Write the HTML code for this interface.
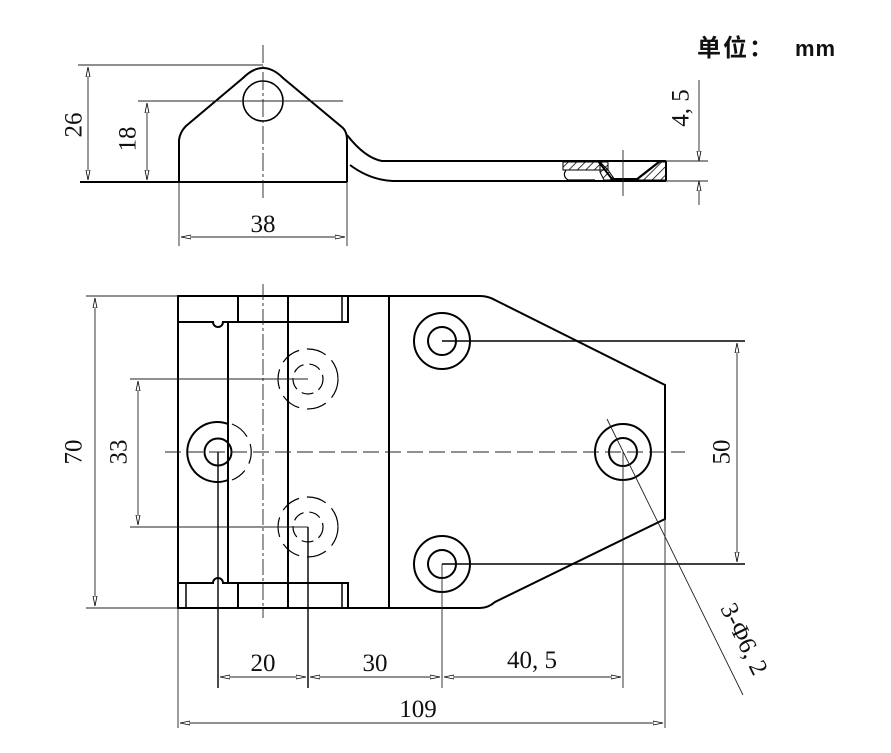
<!DOCTYPE html>
<html><head><meta charset="utf-8"><style>
html,body{margin:0;padding:0;background:#fff;}
svg{display:block;}
text{font-family:"Liberation Serif","Noto Serif CJK SC",serif;font-size:25px;fill:#111;}
</style></head><body>
<svg width="891" height="753" viewBox="0 0 891 753" xmlns="http://www.w3.org/2000/svg">
<defs>
<pattern id="h" width="6" height="6" patternUnits="userSpaceOnUse" patternTransform="rotate(45)">
<line x1="0" y1="0" x2="0" y2="6" stroke="#000" stroke-width="1.5"/></pattern>
<marker id="a" markerWidth="10" markerHeight="6" refX="10" refY="3" orient="auto-start-reverse" markerUnits="userSpaceOnUse">
<path d="M0,1 L10,3 L0,5 Z" fill="#fff" stroke="#000" stroke-width="0.8"/></marker>
</defs>
<text x="697" y="56" style="font-family:'Noto Sans CJK SC',sans-serif;font-weight:bold;font-size:24px;letter-spacing:2px">单位：</text>
<text x="795" y="56" style="font-family:'Liberation Sans',sans-serif;font-weight:bold;font-size:22px;letter-spacing:1px">mm</text>

<!-- TOP VIEW -->
<g fill="none" stroke="#000" stroke-width="2">
<path d="M179,182 L179,140 Q180,132 186,126 L243,78 Q263,58 283,78 L343,128 Q347,132 347,140 L347,182"/>
<line x1="80" y1="182" x2="347" y2="182"/>
<path d="M347,135 Q365,158 382,161 L666,161"/>
<path d="M350,165 Q370,180 393,181 L666,181"/>
<line x1="666" y1="161" x2="666" y2="181"/>
<circle cx="263" cy="101" r="20" stroke-width="1.6"/>
</g>
<g stroke="#000" stroke-width="1">
<rect x="563" y="162" width="45" height="8" fill="url(#h)"/>
<path d="M600,162 L608,170 L615,180 L604,180 L600,172 Z" fill="url(#h)"/>
<path d="M637,180 L660,162 L666,162 L666,180 Z" fill="url(#h)"/>
<path d="M598,161 L612,179 L637,179 L660,161" fill="none" stroke-width="2"/>
<path d="M566,170 Q562,176 568,180 L595,180" fill="none" stroke-width="1.2"/>
</g>
<g stroke="#222" stroke-width="0.9" fill="none">
<line x1="263" y1="45" x2="263" y2="198" stroke-dasharray="18,3,3,3"/>
<line x1="138" y1="101" x2="343" y2="101"/>
<line x1="78" y1="65" x2="263" y2="65"/>
<line x1="88" y1="67" x2="88" y2="180" marker-start="url(#a)" marker-end="url(#a)"/>
<line x1="147" y1="103" x2="147" y2="180" marker-start="url(#a)" marker-end="url(#a)"/>
<line x1="179" y1="182" x2="179" y2="246"/>
<line x1="347" y1="182" x2="347" y2="246"/>
<line x1="181" y1="237" x2="345" y2="237" marker-start="url(#a)" marker-end="url(#a)"/>
<line x1="666" y1="161" x2="708" y2="161"/>
<line x1="666" y1="181" x2="708" y2="181"/>
<line x1="699" y1="80" x2="699" y2="161" marker-end="url(#a)"/>
<line x1="699" y1="181" x2="699" y2="205" marker-start="url(#a)"/>
<line x1="623" y1="150" x2="623" y2="196"/>
</g>
<text x="76" y="125" transform="rotate(-90 76 125)" text-anchor="middle" dominant-baseline="middle">26</text>
<text x="130" y="139" transform="rotate(-90 130 139)" text-anchor="middle" dominant-baseline="middle">18</text>
<text x="263" y="232" text-anchor="middle">38</text>
<text x="683" y="108" transform="rotate(-90 683 108)" text-anchor="middle" dominant-baseline="middle">4, 5</text>

<!-- FRONT VIEW -->
<g fill="none" stroke="#000" stroke-width="2">
<path d="M178,296 L480,296 Q488,296 495,300 L665,385 L665,519 L495,602 Q488,608 480,608 L178,608 Z"/>
<line x1="389" y1="296" x2="389" y2="608"/>
<path d="M178,322 L213,322 A5,5 0 0 0 223,322 L348,322 L348,296"/>
<path d="M178,583 L213,583 A5,5 0 0 1 223,583 L348,583 L348,608"/>
<line x1="342" y1="296" x2="342" y2="322" stroke-width="1.5"/>
<line x1="342" y1="583" x2="342" y2="608" stroke-width="1.5"/>
<line x1="238" y1="296" x2="238" y2="322"/>
<line x1="238" y1="583" x2="238" y2="608"/>
<line x1="186" y1="583" x2="186" y2="608" stroke-width="1.5"/>
<line x1="228" y1="322" x2="228" y2="583"/>
<line x1="288" y1="296" x2="288" y2="608"/>
<circle cx="218" cy="452" r="13.5"/>
<path d="M228,424 A30,30 0 1 0 228,480"/>
<circle cx="442" cy="341" r="28"/><circle cx="442" cy="341" r="14"/>
<circle cx="623" cy="452" r="28"/><circle cx="623" cy="452" r="14"/>
<circle cx="442" cy="564" r="28"/><circle cx="442" cy="564" r="14"/>
</g>
<g fill="none" stroke="#000" stroke-width="1.2" stroke-dasharray="20,8">
<path d="M232,424 A30,30 0 0 1 232,480"/>
<circle cx="308" cy="379" r="30"/><circle cx="308" cy="379" r="15" stroke-dasharray="12,6"/>
<circle cx="308" cy="527" r="30"/><circle cx="308" cy="527" r="15" stroke-dasharray="12,6"/>
</g>
<g stroke="#222" stroke-width="0.9" fill="none">
<line x1="165" y1="452" x2="685" y2="452" stroke-dasharray="16,6"/>
<line x1="263" y1="284" x2="263" y2="618" stroke-dasharray="16,3,3,3"/>
<line x1="86" y1="296" x2="178" y2="296"/>
<line x1="86" y1="608" x2="178" y2="608"/>
<line x1="95" y1="298" x2="95" y2="606" marker-start="url(#a)" marker-end="url(#a)"/>
<line x1="130" y1="379" x2="308" y2="379"/>
<line x1="130" y1="527" x2="308" y2="527"/>
<line x1="138" y1="381" x2="138" y2="525" marker-start="url(#a)" marker-end="url(#a)"/>
<line x1="442" y1="341" x2="745" y2="341" stroke="#000" stroke-width="1.4"/>
<line x1="442" y1="564" x2="745" y2="564" stroke="#000" stroke-width="1.4"/>
<line x1="737" y1="343" x2="737" y2="562" marker-start="url(#a)" marker-end="url(#a)"/>
<line x1="218" y1="452" x2="218" y2="688" stroke="#000" stroke-width="1.4"/>
<line x1="308" y1="527" x2="308" y2="688" stroke="#000" stroke-width="1.4"/>
<line x1="442" y1="564" x2="442" y2="688"/>
<line x1="623" y1="452" x2="623" y2="688"/>
<line x1="178" y1="608" x2="178" y2="728"/>
<line x1="665" y1="519" x2="665" y2="728"/>
<line x1="220" y1="677" x2="306" y2="677" marker-start="url(#a)" marker-end="url(#a)"/>
<line x1="310" y1="677" x2="440" y2="677" marker-start="url(#a)" marker-end="url(#a)"/>
<line x1="444" y1="677" x2="621" y2="677" marker-start="url(#a)" marker-end="url(#a)"/>
<line x1="180" y1="723" x2="663" y2="723" marker-start="url(#a)" marker-end="url(#a)"/>
<line x1="607" y1="419" x2="743" y2="695"/>
</g>
<text x="76" y="452" transform="rotate(-90 76 452)" text-anchor="middle" dominant-baseline="middle">70</text>
<text x="121" y="452" transform="rotate(-90 121 452)" text-anchor="middle" dominant-baseline="middle">33</text>
<text x="724" y="452" transform="rotate(-90 724 452)" text-anchor="middle" dominant-baseline="middle">50</text>
<text x="263" y="671" text-anchor="middle">20</text>
<text x="375" y="671" text-anchor="middle">30</text>
<text x="532" y="668" text-anchor="middle">40, 5</text>
<text x="418" y="717" text-anchor="middle">109</text>
<text x="742" y="640" transform="rotate(63.8 742 640)" text-anchor="middle" dominant-baseline="middle">3-Φ6, 2</text>
</svg>
</body></html>
